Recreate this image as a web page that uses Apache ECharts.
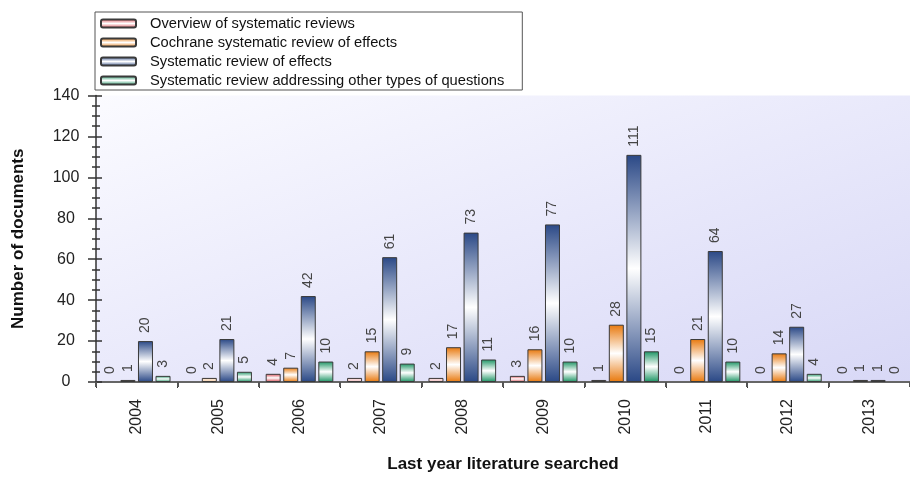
<!doctype html>
<html>
<head>
    <meta charset="utf-8">
    <title>Documents by last year literature searched</title>
    <style>
        html, body { margin: 0; padding: 0; background: #fff; }
        #chartEle { width: 910px; height: 478px; }
    </style>
</head>
<body>
<div id="chartEle"></div>
<script src="https://cdn.jsdelivr.net/npm/echarts@6/dist/echarts.min.js"></script>
<script>
    // data
    var years = ['2004', '2005', '2006', '2007', '2008', '2009', '2010', '2011', '2012', '2013'];
    var overview = [0, 0, 4, 2, 2, 3, 1, 0, 0, 0];
    var cochrane = [1, 2, 7, 15, 17, 16, 28, 21, 14, 1];
    var srEffects = [20, 21, 42, 61, 73, 77, 111, 64, 27, 1];
    var otherQ = [3, 5, 10, 9, 11, 10, 15, 10, 4, 0];
    var names = [
        'Overview of systematic reviews',
        'Cochrane systematic review of effects',
        'Systematic review of effects',
        'Systematic review addressing other types of questions'
    ];
    var edgeColors = ['#d8454e', '#e8780c', '#2a4886', '#1b9463'];

    var font = '"Liberation Sans", Arial, sans-serif';

    function barGrad(c) {
        // dark at top and bottom, white in the middle
        return new echarts.graphic.LinearGradient(0, 0, 0, 1, [
            {offset: 0, color: c},
            {offset: 0.5, color: '#ffffff'},
            {offset: 1, color: c}
        ]);
    }

    function makeSeries(idx, vals) {
        return {
            name: names[idx],
            type: 'bar',
            xAxisIndex: 0,
            yAxisIndex: 0,
            barWidth: 15,
            barGap: '17%',
            itemStyle: {
                color: barGrad(edgeColors[idx]),
                borderColor: '#3a3a3a',
                borderWidth: 1
            },
            label: {
                show: true,
                position: 'top',
                rotate: 90,
                align: 'left',
                verticalAlign: 'middle',
                distance: 8,
                color: '#444',
                fontFamily: font,
                fontSize: 14
            },
            // zero bars are not drawn, only their label
            data: vals.map(function (v) {
                return v === 0 ? {value: 0, itemStyle: {borderWidth: 0}} : v;
            })
        };
    }

    var chart = echarts.init(document.getElementById('chartEle'));
    var option = {
        animation: false,
        backgroundColor: '#fff',
        textStyle: {fontFamily: font},
        legend: {
            orient: 'vertical',
            left: 95,
            top: 12,
            padding: [4, 18, 2, 5],
            itemGap: 4,
            itemWidth: 35,
            itemHeight: 8,
            backgroundColor: '#fff',
            borderColor: '#555',
            borderWidth: 1,
            selectedMode: false,
            textStyle: {
                fontFamily: font,
                fontSize: 14.7,
                lineHeight: 15,
                color: '#111',
                padding: [0, 0, 0, 9]
            },
            data: names
        },
        grid: {
            left: 96,
            right: -10,
            top: 95.5,
            bottom: 92.7,
            show: true,
            borderWidth: 0,
            // near white at top left, lavender at bottom right
            backgroundColor: new echarts.graphic.LinearGradient(0, 0, 0.22, 1.78, [
                {offset: 0, color: '#fbfbff'},
                {offset: 0.5, color: '#e9e9fb'},
                {offset: 1, color: '#d8d8f6'}
            ])
        },
        xAxis: [{
            type: 'category',
            data: years,
            position: 'bottom',
            name: 'Last year literature searched',
            nameLocation: 'middle',
            nameGap: 74,
            nameTextStyle: {fontFamily: font, fontSize: 17, fontWeight: 'bold', color: '#111'},
            axisLine: {lineStyle: {color: '#444', width: 1}},
            axisTick: {show: true, length: 6, lineStyle: {color: '#333'}},
            axisLabel: {rotate: 90, margin: 17, fontFamily: font, fontSize: 16, color: '#222'}
        }, {
            type: 'category',
            data: years,
            position: 'top',
            axisLine: {lineStyle: {color: '#666', width: 2}},
            axisTick: {show: true, inside: true, length: 5, lineStyle: {color: '#555', width: 2}},
            axisLabel: {show: false}
        }],
        yAxis: [{
            type: 'value',
            min: 0,
            max: 140,
            interval: 20,
            name: 'Number of documents',
            nameLocation: 'middle',
            nameGap: 69,
            nameTextStyle: {fontFamily: font, fontSize: 17, fontWeight: 'bold', color: '#111'},
            axisLine: {show: true, lineStyle: {color: '#333', width: 1.5}},
            axisTick: {show: true, length: 8, lineStyle: {color: '#333', width: 1.5}},
            minorTick: {show: true, splitNumber: 4, length: 4, lineStyle: {color: '#333', width: 1.5}},
            splitLine: {show: false},
            axisLabel: {margin: 30, align: 'center', fontFamily: font, fontSize: 16, color: '#222'}
        }, {
            // second copy on the same side draws the inner half of the ticks
            type: 'value',
            position: 'left',
            min: 0,
            max: 140,
            interval: 20,
            axisLine: {show: false},
            axisTick: {show: true, inside: true, length: 6, lineStyle: {color: '#333', width: 1.5}},
            minorTick: {show: true, splitNumber: 4, length: 4, lineStyle: {color: '#333', width: 1.5}},
            splitLine: {show: false},
            axisLabel: {show: false}
        }],
        series: [
            makeSeries(0, overview),
            makeSeries(1, cochrane),
            makeSeries(2, srEffects),
            makeSeries(3, otherQ)
        ]
    };
    chart.setOption(option);
</script>
</body>
</html>
